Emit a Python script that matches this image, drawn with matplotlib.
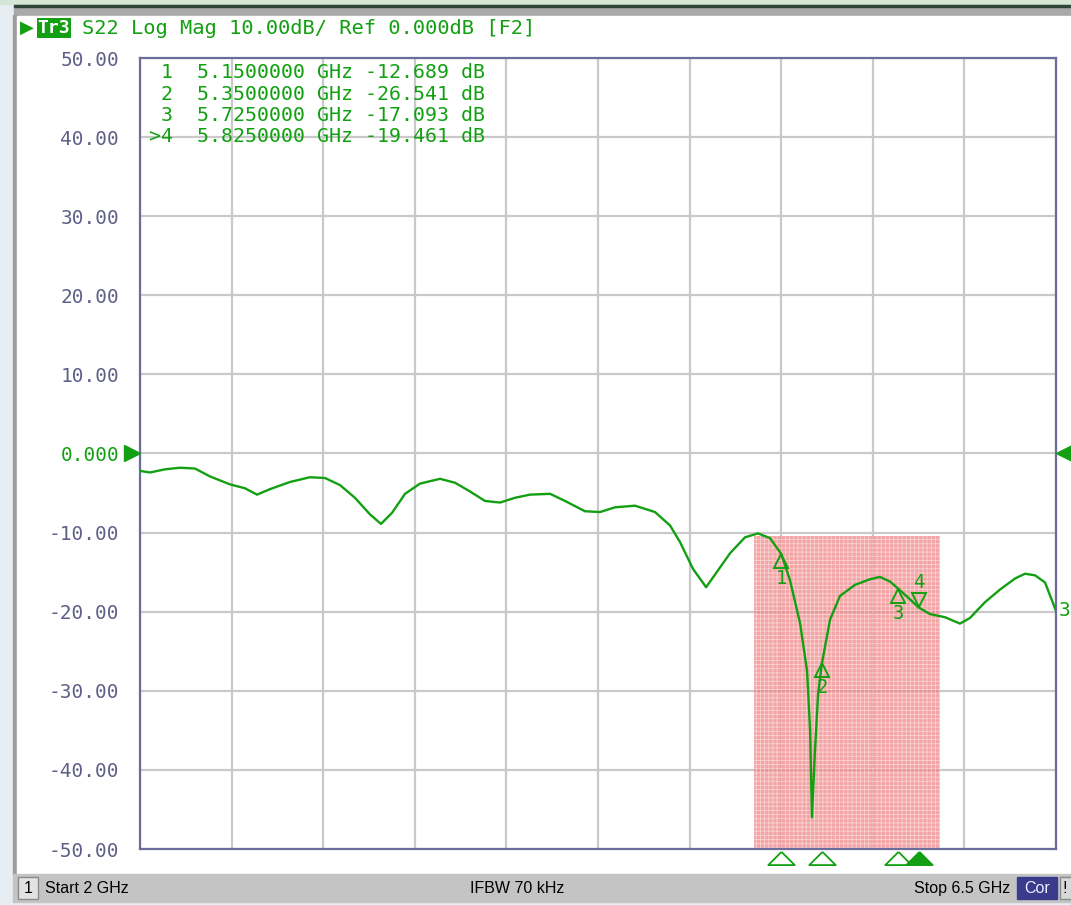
import numpy as np
import matplotlib.pyplot as plt
from matplotlib.patches import Rectangle
from matplotlib.transforms import offset_copy

# trace S22
freq_ghz = [2.000, 2.049, 2.123, 2.197, 2.270, 2.344, 2.442, 2.516, 2.575, 2.639,
            2.737, 2.835, 2.909, 2.983, 3.056, 3.130, 3.184, 3.238, 3.302, 3.376,
            3.474, 3.548, 3.621, 3.695, 3.769, 3.842, 3.916, 4.015, 4.088, 4.186,
            4.260, 4.334, 4.432, 4.530, 4.604, 4.653, 4.717, 4.781, 4.825, 4.899,
            4.972, 5.036, 5.095, 5.150, 5.193, 5.243, 5.277, 5.292, 5.301, 5.315,
            5.331, 5.350, 5.390, 5.439, 5.513, 5.586, 5.635, 5.685, 5.725, 5.773,
            5.825, 5.881, 5.955, 6.028, 6.077, 6.151, 6.225, 6.299, 6.348, 6.397,
            6.446, 6.500]
s22_db = [-2.2, -2.4, -2.0, -1.8, -1.9, -2.9, -3.9, -4.4, -5.2, -4.5,
          -3.6, -3.0, -3.1, -4.0, -5.6, -7.7, -8.9, -7.5, -5.1, -3.8,
          -3.2, -3.7, -4.8, -6.0, -6.2, -5.6, -5.2, -5.1, -6.0, -7.3,
          -7.4, -6.8, -6.6, -7.4, -9.1, -11.2, -14.6, -16.9, -15.3, -12.6,
          -10.6, -10.1, -10.7, -12.689, -16.0, -21.5, -27.5, -35.0, -46.0, -38.0,
          -30.5, -26.541, -21.0, -18.0, -16.6, -15.9, -15.6, -16.2, -17.093, -18.2,
          -19.461, -20.3, -20.7, -21.5, -20.8, -18.8, -17.2, -15.8, -15.2, -15.4,
          -16.3, -19.9]

marker_ids = [1, 2, 3, 4]
marker_freqs = [5.15, 5.35, 5.725, 5.825]
marker_vals = [-12.689, -26.541, -17.093, -19.461]
active_marker = 4

band_ghz = [5.015, 5.93]
band_db = [-50, -10.4]

y_ticks = [50, 40, 30, 20, 10, 0, -10, -20, -30, -40, -50]
y_labels = ['50.00', '40.00', '30.00', '20.00', '10.00', '0.000',
            '-10.00', '-20.00', '-30.00', '-40.00', '-50.00']

GREEN = '#12a012'
GRAY_TXT = '#5f5f88'
MONO = 'DejaVu Sans Mono'
W, H = 1071, 905

plt.rcParams['hatch.linewidth'] = 0.6


def fx(x):
    return x / W


def fy(y):
    return 1 - y / H


def chrome(x, y, w, h, **kw):
    # rectangle in screen pixels (top-left corner), behind the axes
    kw.setdefault('zorder', -5)
    fig.patches.append(Rectangle((fx(x), fy(y + h)), w / W, h / H,
                                 transform=fig.transFigure, **kw))


fig = plt.figure(figsize=(10.71, 9.05), dpi=100)
fig.patch.set_facecolor('#e6edf3')

# window chrome
chrome(0, 0, W, 4, color='#d6e6d6')
chrome(14, 5, W, 10, color='#a9a9a9')
chrome(14, 5, W, 2, color='#2f4538')
chrome(13, 15, 4, 860, color='#9c9c9c')
chrome(17, 16, W, 858, color='white')
# status bar
chrome(13, 874, W, 28, color='#c4c4c4')
chrome(18, 877, 20, 22, facecolor='#e2e2e2', edgecolor='#8a8a8a', lw=1, zorder=-4)
chrome(1017, 877, 40, 22, color='#3b3b8e', zorder=-4)
chrome(1060, 877, 12, 22, facecolor='#d8d8d8', edgecolor='#8a8a8a', lw=1, zorder=-4)
sb = dict(fontsize=11.5, family='Liberation Sans', va='center')
fig.text(fx(28), fy(888), '1', ha='center', **sb)
fig.text(fx(45), fy(888), 'Start 2 GHz', **sb)
fig.text(fx(517), fy(888), 'IFBW 70 kHz', ha='center', **sb)
fig.text(fx(1010), fy(888), 'Stop 6.5 GHz', ha='right', **sb)
fig.text(fx(1037), fy(888), 'Cor', color='#eeeeff', ha='center', **sb)
fig.text(fx(1065), fy(888), '!', ha='center', **sb)

# title line
fig.text(fx(20), fy(28), '\u25B6', fontsize=13, color=GREEN, va='center')
fig.text(fx(54), fy(28), 'Tr3', fontsize=13, family=MONO, color='white', weight='bold',
         ha='center', va='center',
         bbox=dict(boxstyle='square,pad=0.05', fc=GREEN, ec='none'))
fig.text(fx(82), fy(28), 'S22 Log Mag 10.00dB/ Ref 0.000dB [F2]', fontsize=14.7,
         family=MONO, color=GREEN, va='center')

ax = fig.add_axes([fx(140), fy(849), (1056 - 140) / W, (849 - 58) / H])
ax.set_facecolor('white')
ax.set_xlim(2, 6.5)
ax.set_ylim(-50, 50)
ax.set_xticks(np.linspace(2, 6.5, 11))
ax.set_xticklabels([])
ax.set_yticks(y_ticks)
ax.set_yticklabels(y_labels, family=MONO, fontsize=14, color=GRAY_TXT)
ax.get_yticklabels()[y_ticks.index(0)].set_color(GREEN)
ax.tick_params(length=0, pad=15)
ax.grid(True, color='#c9c9c9', lw=1.6, zorder=0)
ax.set_axisbelow(True)
for s in ax.spines.values():
    s.set_color('#6c6c9c')
    s.set_linewidth(1.6)

# band overlay
ax.fill_between(band_ghz, band_db[0], band_db[1], facecolor='#f07e7e', alpha=0.7,
                edgecolor='none', zorder=1)
ax.fill_between(band_ghz, band_db[0], band_db[1], facecolor='none', hatch='++++',
                edgecolor='white', lw=0, alpha=0.5, zorder=1)

ax.plot(freq_ghz, s22_db, color=GREEN, lw=1.7, zorder=3)
ax.text(1.003, (s22_db[-1] + 50) / 100, '3', transform=ax.transAxes, color=GREEN,
        family=MONO, fontsize=14, va='center')

# reference level arrows
ax.plot([-0.009], [0.5], marker='>', ms=11, color=GREEN, transform=ax.transAxes,
        clip_on=False, zorder=5)
ax.plot([1.009], [0.5], marker='<', ms=11, color=GREEN, transform=ax.transAxes,
        clip_on=False, zorder=5)

# markers on the trace
below = offset_copy(ax.transData, fig=fig, x=0, y=-7, units='dots')
above = offset_copy(ax.transData, fig=fig, x=0, y=7, units='dots')
for mid, f, v in zip(marker_ids, marker_freqs, marker_vals):
    if mid == active_marker:
        ax.plot(f, v, marker='v', ms=10, mfc='none', mec=GREEN, mew=1.4,
                transform=above, zorder=4)
        ax.annotate(str(mid), (f, v), xytext=(0, 15), textcoords='offset pixels',
                    color=GREEN, family=MONO, fontsize=13.5, ha='center', va='bottom')
    else:
        ax.plot(f, v, marker='^', ms=10, mfc='none', mec=GREEN, mew=1.4,
                transform=below, zorder=4)
        ax.annotate(str(mid), (f, v), xytext=(0, -15), textcoords='offset pixels',
                    color=GREEN, family=MONO, fontsize=13.5, ha='center', va='top')

# marker table
for i, (mid, f, v) in enumerate(zip(marker_ids, marker_freqs, marker_vals)):
    prefix = ('>' if mid == active_marker else '') + str(mid)
    row = f'{prefix:>2}  {f:.7f} GHz {v:.3f} dB'
    fig.text(fx(149), fy(73 + 21.3 * i), row, family=MONO, fontsize=14.3,
             color=GREEN, va='center')

# marker position flags under the grid
tri = [(0, 0.5), (-1, -0.5), (1, -0.5), (0, 0.5)]
for mid, f in zip(marker_ids, marker_freqs):
    ax.plot(f, -0.012, marker=tri, ms=19, color=GREEN, mew=1.3,
            mfc=GREEN if mid == active_marker else 'white',
            transform=ax.get_xaxis_transform(), clip_on=False, zorder=5)

fig.savefig('out.png', dpi=100, facecolor=fig.get_facecolor())
